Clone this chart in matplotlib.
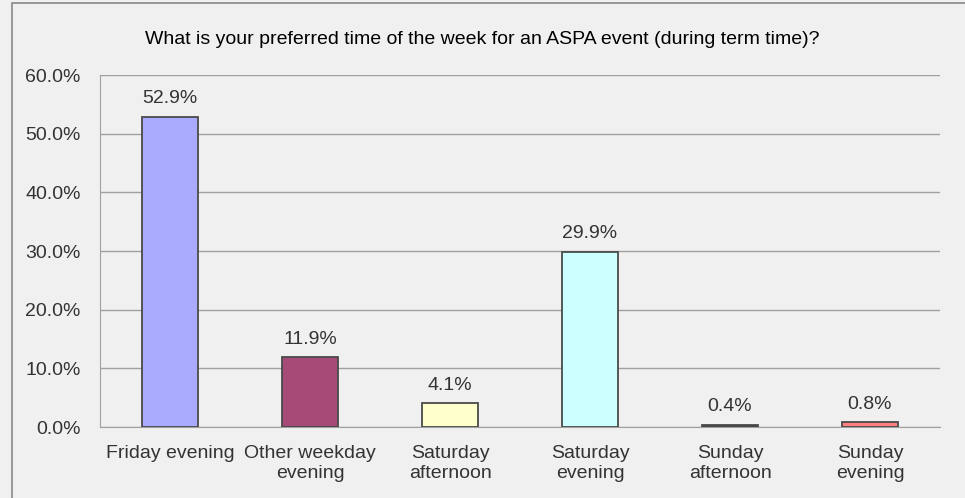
import matplotlib
matplotlib.use('Agg')
import matplotlib.pyplot as plt
from matplotlib.patches import Rectangle

categories = ['Friday evening', 'Other weekday\nevening', 'Saturday\nafternoon',
              'Saturday\nevening', 'Sunday\nafternoon', 'Sunday\nevening']
values = [52.9, 11.9, 4.1, 29.9, 0.4, 0.8]
bar_colors = ['#aaaaff', '#a84a78', '#ffffcc', '#ccffff', '#5a3a4a', '#ff8080']
yticks = [0, 10, 20, 30, 40, 50, 60]

title = 'What is your preferred time of the week for an ASPA event (during term time)?'

plt.rcParams['font.family'] = ['Liberation Sans', 'DejaVu Sans']

bg = '#f0f0f0'
fig = plt.figure(figsize=(9.65, 4.98), dpi=100, facecolor=bg)
# outer frame
fig.patches.append(Rectangle((12 / 965, -0.01), 1.0, 1.0 - 3 / 498 + 0.01,
                             transform=fig.transFigure, fill=False,
                             edgecolor='#888888', linewidth=1.2))

ax = fig.add_axes([100 / 965, 1 - 427 / 498, 840 / 965, 352 / 498])
ax.set_facecolor(bg)

x = list(range(len(categories)))
ax.bar(x, values, width=0.4, color=bar_colors, edgecolor='#4a4a4a', linewidth=1.3, zorder=3)

for xi, v in zip(x, values):
    ax.text(xi, v + 1.6, f'{v:.1f}%', ha='center', va='bottom', fontsize=14, color='#333333')

ax.set_xlim(-0.5, len(categories) - 0.5)
ax.set_ylim(0, 60)
ax.set_yticks(yticks)
ax.set_yticklabels([f'{t:.1f}%' for t in yticks], fontsize=14, color='#333333')
ax.set_xticks(x)
ax.set_xticklabels(categories, fontsize=14, color='#333333', linespacing=1.25)
ax.tick_params(axis='x', length=0, pad=13)
ax.tick_params(axis='y', length=0, pad=14)

ax.grid(axis='y', color='#a0a0a0', linewidth=1.0, zorder=0)
for s in ['top', 'right']:
    ax.spines[s].set_visible(False)
ax.spines['left'].set_color('#a0a0a0')
ax.spines['bottom'].set_color('#a0a0a0')

fig.text(0.5, 1 - 40 / 498, title, ha='center', va='center', fontsize=14,
         color='#000000')

fig.savefig('out.png', dpi=100, facecolor=bg)
